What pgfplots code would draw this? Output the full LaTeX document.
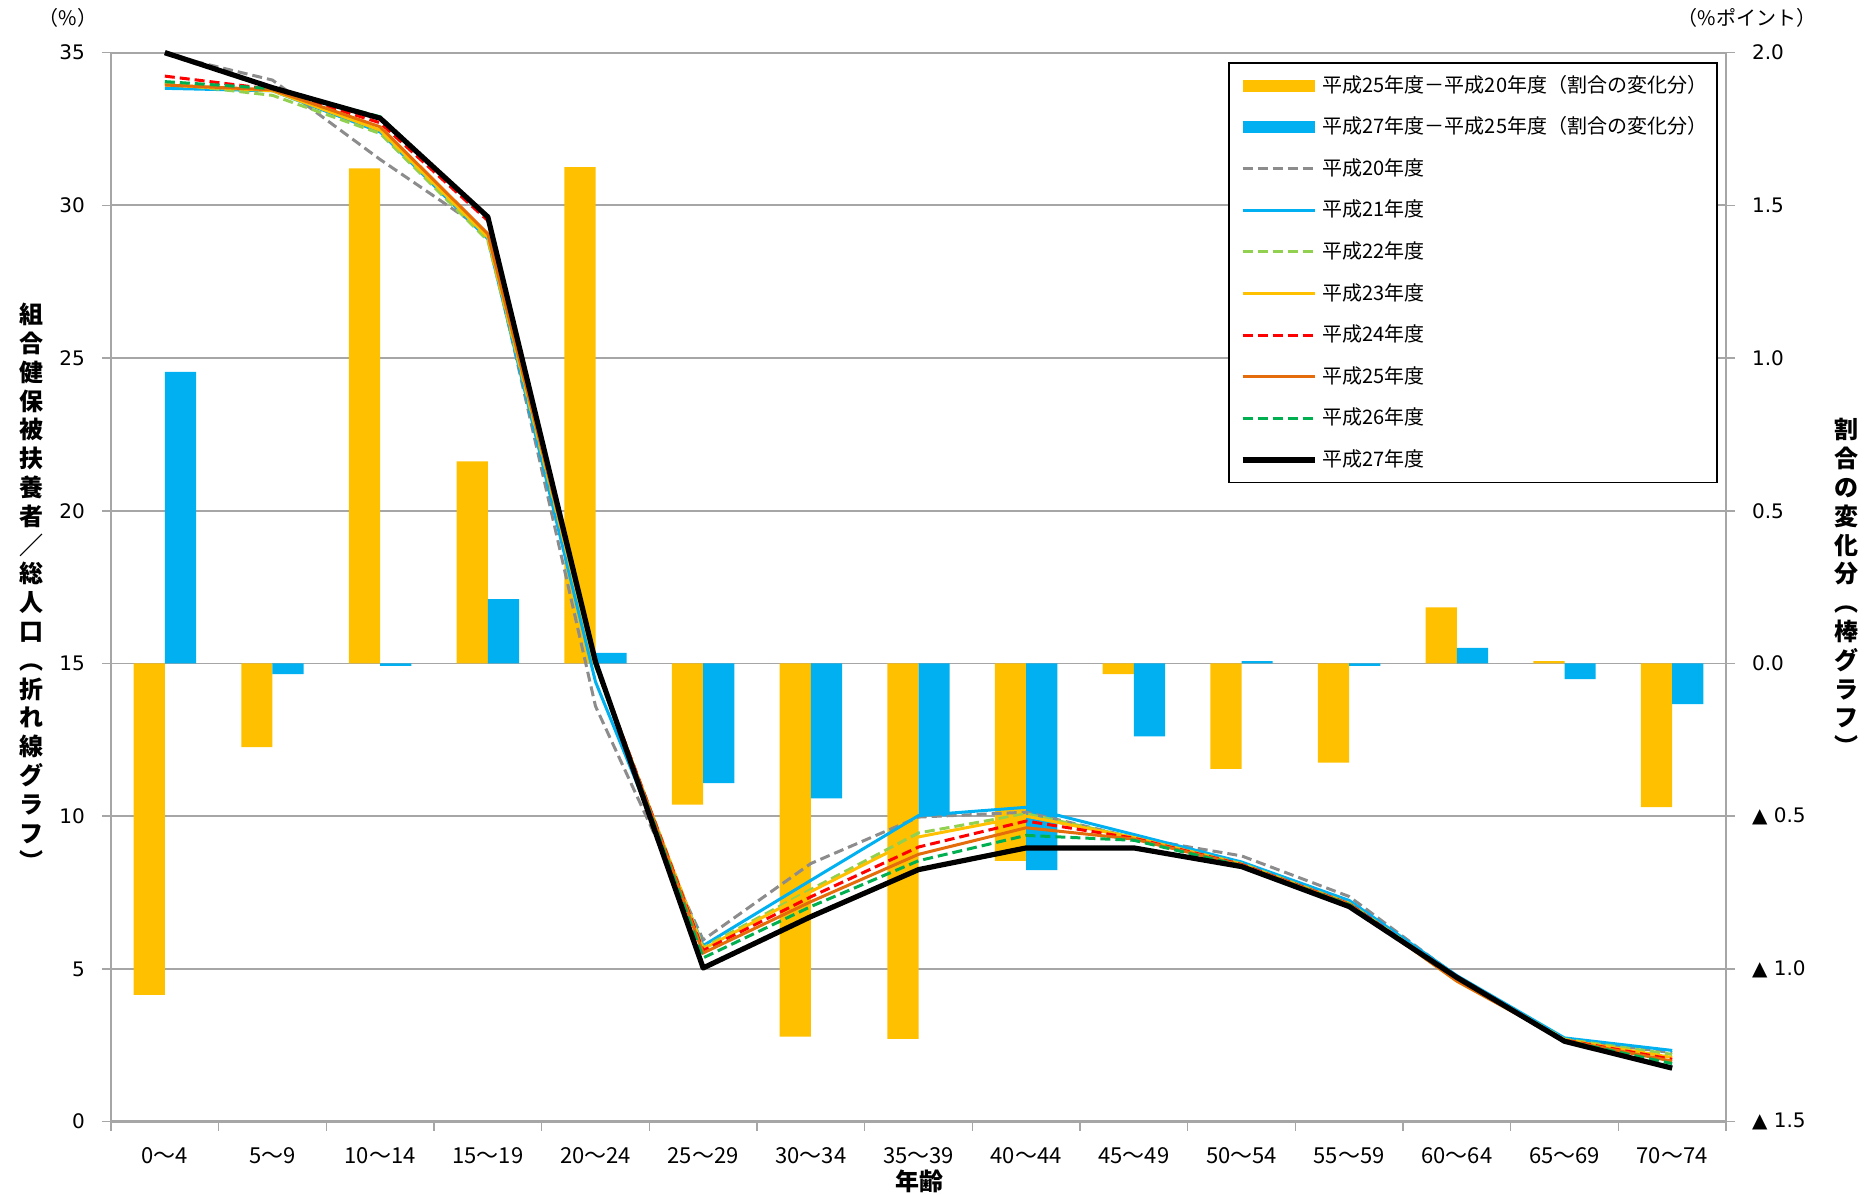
\documentclass[border=0pt]{standalone}
\usepackage{pgfplots}
\pgfplotsset{compat=1.18}
\usepackage{fontspec}
\setmainfont{DejaVu Sans}
\newfontfamily\cjk{Noto Sans CJK JP}
\definecolor{barY}{HTML}{FFC000}
\definecolor{barB}{HTML}{00B0F0}
\definecolor{lgray}{HTML}{8C8C8C}
\definecolor{lgreen}{HTML}{92D050}
\definecolor{lorange}{HTML}{E46C0A}
\definecolor{dgreen}{HTML}{00B050}
\definecolor{gridgray}{HTML}{A6A6A6}

\pgfplotstableread{
x   ya      yb
0   -1.085  0.955
1   -0.274  -0.035
2   1.621   -0.008
3   0.662   0.211
4   1.625   0.035
5   -0.462  -0.392
6   -1.222  -0.442
7   -1.229  -0.501
8   -0.646  -0.677
9   -0.035  -0.239
10  -0.345  0.008
11  -0.325  -0.008
12  0.184   0.051
13  0.008   -0.051
14  -0.470  -0.133
}\bars

\pgfplotstableread{
x  h20    h21    h22    h23    h24    h25    h26    h27
0  34.95  33.83  34.00  33.94  34.23  33.94  34.05  35.00
1  34.10  33.75  33.60  33.75  33.80  33.78  33.82  33.85
2  31.50  32.40  32.35  32.46  32.70  32.57  32.90  32.85
3  29.10  28.90  28.85  28.96  29.50  29.07  29.60  29.62
4  13.60  14.40  14.90  14.95  15.00  15.00  15.00  15.05
5  5.95   5.76   5.70   5.65   5.60   5.52   5.36   5.03
6  8.45   7.90   7.60   7.53   7.36   7.20   7.04   6.71
7  9.97   10.02  9.45   9.32   8.99   8.75   8.54   8.25
8  10.13  10.29  10.08  10.00  9.84   9.62   9.37   8.96
9  9.30   9.40   9.30   9.30   9.28   9.25   9.21   8.96
10 8.70   8.50   8.45   8.42   8.42   8.40   8.38   8.35
11 7.37   7.24   7.15   7.13   7.13   7.12   7.10   7.04
12 4.75   4.78   4.72   4.60   4.70   4.60   4.70   4.72
13 2.69   2.74   2.70   2.68   2.67   2.66   2.65   2.63
14 2.26   2.33   2.20   2.10   2.04   1.98   1.90   1.75
}\lines

\begin{document}
\begin{tikzpicture}
\path[use as bounding box] (-55.5pt,-36.5pt) rectangle (882.5pt,560.8pt);
% ---- bars (right axis) ----
\begin{axis}[
  at={(0,0)}, anchor=south west,
  width=807.5pt, height=534.5pt, scale only axis,
  xmin=-0.5, xmax=14.5, ymin=-1.5, ymax=2,
  axis y line*=right, axis x line*=bottom,
  axis line style={draw=gridgray, line width=1.3pt, -},
  /pgf/number format/assume math mode=true,
  tick align=outside,
  ytick={-1.5,-1,-0.5,0,0.5,1,1.5,2},
  yticklabels={▲ 1.5,▲ 1.0,▲ 0.5,0.0,0.5,1.0,1.5,2.0},
  yticklabel style={font=\fontsize{10}{12}\selectfont, xshift=5pt},
  ytick style={draw=gridgray, line width=0.8pt},
  major tick length=4.5pt,
  ymajorgrids, grid style={draw=gridgray, line width=0.9pt},
  xtick={0,...,14},
  xticklabels={0〜4,5〜9,10〜14,15〜19,20〜24,25〜29,30〜34,35〜39,40〜44,45〜49,50〜54,55〜59,60〜64,65〜69,70〜74},
  xticklabel style={font=\cjk\fontsize{11}{13}\selectfont, yshift=-5pt},
  xtick style={draw=none},
  minor xtick={-0.5,0.5,...,14.5},
  minor x tick style={draw=gridgray, line width=0.8pt},
  minor tick length=4.5pt,
  ybar, bar width=0.29,
]
\addplot[fill=barY, draw=none, bar shift=-0.145] table[x=x, y=ya] {\bars};
\addplot[fill=barB, draw=none, bar shift=0.145] table[x=x, y=yb] {\bars};
\end{axis}
% ---- lines (left axis) ----
\begin{axis}[
  at={(0,0)}, anchor=south west,
  width=807.5pt, height=534.5pt, scale only axis,
  xmin=-0.5, xmax=14.5, ymin=0, ymax=35,
  axis y line*=left, hide x axis,
  axis line style={draw=gridgray, line width=1.3pt, -},
  clip=false,
  /pgf/number format/assume math mode=true,
  tick align=outside,
  ytick={0,5,10,15,20,25,30,35},
  yticklabels={0,5,10,15,20,25,30,35},
  yticklabel style={font=\fontsize{10}{12}\selectfont, xshift=-5pt},
  ytick style={draw=gridgray, line width=0.8pt},
  major tick length=4.5pt,
  legend image code/.code={\draw[#1] (0pt,0pt) -- (36pt,0pt);},
  legend style={at={(0.995,0.991)}, anchor=north east, draw=black, line width=0.8pt,
    font=\cjk\fontsize{10}{12}\selectfont, row sep=8.3pt, inner xsep=4pt, inner ysep=5pt,
    cells={anchor=west}, nodes={inner sep=1pt, text height=8.5pt, text depth=2pt}},
]
\addlegendimage{barY, line width=6pt}
\addlegendentry{平成25年度－平成20年度（割合の変化分）}
\addlegendimage{barB, line width=6pt}
\addlegendentry{平成27年度－平成25年度（割合の変化分）}
\addplot[lgray, line width=1.5pt, dash pattern=on 5pt off 2.5pt] table[x=x, y=h20] {\lines};
\addlegendentry{平成20年度}
\addplot[barB, line width=1.5pt] table[x=x, y=h21] {\lines};
\addlegendentry{平成21年度}
\addplot[lgreen, line width=1.5pt, dash pattern=on 5pt off 2.5pt] table[x=x, y=h22] {\lines};
\addlegendentry{平成22年度}
\addplot[barY, line width=1.5pt] table[x=x, y=h23] {\lines};
\addlegendentry{平成23年度}
\addplot[red, line width=1.5pt, dash pattern=on 5pt off 2.5pt] table[x=x, y=h24] {\lines};
\addlegendentry{平成24年度}
\addplot[lorange, line width=1.5pt] table[x=x, y=h25] {\lines};
\addlegendentry{平成25年度}
\addplot[dgreen, line width=1.5pt, dash pattern=on 5pt off 2.5pt] table[x=x, y=h26] {\lines};
\addlegendentry{平成26年度}
\addplot[black, line width=2.6pt, line join=round] table[x=x, y=h27] {\lines};
\addlegendentry{平成27年度}
\end{axis}
\node[font=\cjk\fontsize{10}{12}\selectfont] at (-21.5pt,551.8pt) {（\%）};
\node[font=\cjk\fontsize{10}{12}\selectfont] at (818pt,551.8pt) {（\%ポイント）};
\node[font=\cjk\bfseries\fontsize{12}{14.4}\selectfont, align=center, inner sep=0pt] at (-39.5pt,267.25pt)
  {組\\合\\健\\保\\被\\扶\\養\\者\\／\\総\\人\\口\\︵\\折\\れ\\線\\グ\\ラ\\フ\\︶};
\node[font=\cjk\bfseries\fontsize{12}{14.4}\selectfont, align=center, inner sep=0pt] at (867.5pt,267.25pt)
  {割\\合\\の\\変\\化\\分\\︵\\棒\\グ\\ラ\\フ\\︶};
\node[font=\cjk\bfseries\fontsize{12}{14}\selectfont] at (404pt,-30pt) {年齢};
\end{tikzpicture}
\end{document}
